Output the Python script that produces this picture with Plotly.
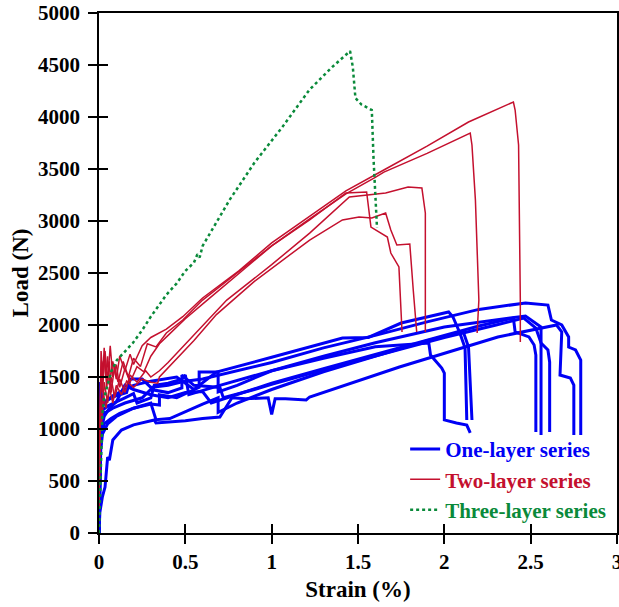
import plotly.graph_objects as go

# ---------------- data ----------------
# One-layer series (8 specimens)
b1_x = [0, 0.003, 0.008, 0.015, 0.03, 0.06, 0.1, 0.15, 0.2, 0.22, 0.3, 0.32, 0.4, 0.48, 0.5, 0.52, 0.7, 1.0, 1.3, 1.6, 1.91, 1.92, 1.985, 2.0, 2.0, 2.07, 2.13, 2.15]
b1_y = [0, 400, 800, 1000, 1120, 1200, 1260, 1300, 1340, 1250, 1300, 1420, 1440, 1480, 1520, 1330, 1420, 1560, 1680, 1790, 1827, 1711, 1586, 1538, 1087, 1058, 1038, 962]

b2_x = [0, 0.002, 0.004, 0.006, 0.01, 0.015, 0.03, 0.08, 0.15, 0.2, 0.3, 0.45, 0.55, 0.68, 1.0, 1.41, 1.56, 1.75, 2.025, 2.05, 2.09, 2.12, 2.13]
b2_y = [0, 600, 1000, 1450, 1300, 1200, 1250, 1320, 1380, 1420, 1460, 1500, 1380, 1548, 1690, 1875, 1880, 2019, 2125, 2077, 1923, 1779, 1087]

b3_x = [0, 0.005, 0.01, 0.02, 0.05, 0.1, 0.2, 0.3, 0.33, 0.41, 0.5, 0.6, 0.69, 0.69, 0.8, 1.0, 1.3, 1.6, 1.9, 2.11, 2.14, 2.16]
b3_y = [0, 500, 800, 950, 1050, 1120, 1200, 1250, 1090, 1100, 1170, 1240, 1300, 1160, 1250, 1380, 1550, 1700, 1850, 1933, 1788, 1087]

b4_x = [0, 0.003, 0.01, 0.02, 0.05, 0.1, 0.15, 0.2, 0.3, 0.4, 0.5, 0.6, 0.65, 0.8, 1.0, 1.3, 1.6, 2.0, 2.2, 2.4, 2.41, 2.49, 2.52, 2.53, 2.53]
b4_y = [0, 700, 1100, 1180, 1220, 1260, 1420, 1380, 1330, 1300, 1350, 1360, 1250, 1330, 1440, 1580, 1720, 1900, 1990, 2067, 1933, 1885, 1808, 1711, 971]

b5_x = [0, 0.004, 0.01, 0.03, 0.07, 0.12, 0.2, 0.3, 0.35, 0.35, 0.45, 0.58, 0.58, 0.69, 0.69, 0.8, 1.0, 1.3, 1.6, 2.0, 2.3, 2.47, 2.56, 2.56]
b5_y = [0, 500, 900, 1050, 1100, 1150, 1200, 1240, 1230, 1330, 1300, 1400, 1548, 1548, 1356, 1420, 1560, 1700, 1830, 1980, 2050, 2087, 1980, 942]

b6_x = [0, 0.003, 0.008, 0.01, 0.012, 0.03, 0.08, 0.15, 0.25, 0.3, 0.4, 0.48, 0.48, 0.55, 0.7, 0.72, 0.9, 1.0, 1.3, 1.6, 2.0, 2.3, 2.46, 2.53, 2.56, 2.6, 2.61, 2.61]
b6_y = [0, 600, 1000, 1400, 1200, 1150, 1200, 1250, 1300, 1380, 1350, 1394, 1519, 1420, 1400, 1300, 1380, 1430, 1570, 1700, 1880, 2000, 2067, 1971, 1827, 1760, 1644, 971]

b7_x = [0, 0.005, 0.02, 0.035, 0.05, 0.06, 0.08, 0.13, 0.2, 0.32, 0.33, 0.41, 0.5, 0.6, 0.7, 0.77, 0.85, 0.98, 1.0, 1.02, 1.08, 1.2, 1.22, 1.74, 2.31, 2.65, 2.68, 2.67, 2.73, 2.75, 2.75]
b7_y = [0, 200, 350, 442, 730, 700, 894, 990, 1040, 1087, 1058, 1067, 1080, 1100, 1115, 1300, 1290, 1300, 1140, 1290, 1290, 1280, 1308, 1596, 1885, 2000, 1933, 1519, 1490, 1423, 942]

b8_x = [0, 0.003, 0.006, 0.008, 0.012, 0.02, 0.05, 0.1, 0.16, 0.18, 0.25, 0.3, 0.4, 0.5, 0.6, 0.8, 1.0, 1.3, 1.6, 1.9, 2.2, 2.47, 2.6, 2.62, 2.68, 2.72, 2.72, 2.76, 2.79, 2.79]
b8_y = [0, 800, 1200, 1450, 1350, 1250, 1280, 1320, 1350, 1480, 1480, 1400, 1420, 1460, 1480, 1560, 1640, 1780, 1900, 2030, 2150, 2212, 2192, 2048, 2000, 1885, 1788, 1760, 1663, 942]

# Two-layer series (5 specimens)
r1_x = [0, 0.003, 0.006, 0.01, 0.015, 0.02, 0.03, 0.04, 0.05, 0.06, 0.08, 0.1, 0.12, 0.15, 0.18, 0.2, 0.25, 0.3, 0.39, 0.485, 0.6, 0.81, 1.0, 1.22, 1.43, 1.66, 1.9, 2.14, 2.4, 2.41, 2.43, 2.44, 2.44]
r1_y = [250, 700, 1100, 1500, 1650, 1450, 1780, 1500, 1700, 1420, 1650, 1480, 1700, 1560, 1720, 1620, 1800, 1880, 1960, 2080, 2260, 2520, 2790, 3050, 3290, 3500, 3720, 3952, 4144, 4067, 3731, 2240, 1836]

r2_x = [0, 0.004, 0.008, 0.012, 0.02, 0.03, 0.045, 0.06, 0.07, 0.09, 0.11, 0.14, 0.17, 0.2, 0.24, 0.28, 0.33, 0.39, 0.485, 0.6, 0.8, 1.0, 1.22, 1.43, 1.6, 1.65, 1.9, 2.15, 2.16, 2.18, 2.2, 2.19]
r2_y = [300, 800, 1200, 1750, 1550, 1700, 1400, 1650, 1350, 1600, 1450, 1650, 1500, 1680, 1600, 1820, 1790, 1923, 2048, 2240, 2500, 2760, 3020, 3260, 3420, 3470, 3650, 3846, 3731, 3202, 2240, 1923]

r3_x = [0, 0.004, 0.01, 0.02, 0.03, 0.05, 0.07, 0.09, 0.12, 0.15, 0.18, 0.22, 0.27, 0.3, 0.35, 0.4, 0.485, 0.6, 0.74, 1.0, 1.22, 1.45, 1.66, 1.79, 1.87, 1.89, 1.89]
r3_y = [300, 900, 1300, 1150, 1450, 1250, 1500, 1300, 1480, 1350, 1520, 1450, 1560, 1500, 1560, 1640, 1790, 1990, 2240, 2580, 2884, 3231, 3269, 3327, 3317, 3077, 1933]

r4_x = [0, 0.003, 0.008, 0.015, 0.025, 0.04, 0.06, 0.08, 0.1, 0.13, 0.16, 0.2, 0.25, 0.3, 0.34, 0.35, 0.45, 0.55, 0.68, 0.9, 1.22, 1.41, 1.506, 1.58, 1.66, 1.69, 1.725, 1.8, 1.82, 1.84]
r4_y = [260, 800, 1200, 1050, 1350, 1200, 1400, 1250, 1420, 1330, 1460, 1400, 1480, 1450, 1440, 1500, 1680, 1850, 2100, 2420, 2817, 3010, 3038, 3029, 3077, 2913, 2769, 2779, 2336, 1933]

r5_x = [0, 0.003, 0.008, 0.015, 0.02, 0.035, 0.05, 0.065, 0.08, 0.1, 0.12, 0.15, 0.18, 0.22, 0.26, 0.3, 0.35, 0.4, 0.5, 0.62, 0.8, 1.0, 1.22, 1.43, 1.55, 1.575, 1.67, 1.69, 1.737, 1.755]
r5_y = [280, 900, 1300, 1600, 1350, 1750, 1450, 1800, 1500, 1620, 1400, 1580, 1450, 1600, 1550, 1700, 1820, 1900, 2060, 2230, 2480, 2760, 3010, 3269, 3279, 2942, 2846, 2692, 2558, 1933]

# Three-layer series (1 specimen)
g_x = [0, 0.005, 0.01, 0.015, 0.02, 0.03, 0.046, 0.07, 0.104, 0.15, 0.196, 0.25, 0.3, 0.39, 0.45, 0.5, 0.55, 0.57, 0.583, 0.6, 0.756, 0.9, 1.062, 1.218, 1.35, 1.454, 1.47, 1.485, 1.52, 1.58, 1.59, 1.61]
g_y = [0, 300, 600, 900, 1150, 1300, 1404, 1550, 1663, 1750, 1827, 1950, 2080, 2290, 2400, 2520, 2600, 2680, 2650, 2760, 3202, 3560, 3904, 4260, 4480, 4634, 4480, 4183, 4120, 4067, 3600, 2933]

one_layer = [(b1_x, b1_y), (b2_x, b2_y), (b3_x, b3_y), (b4_x, b4_y),
             (b5_x, b5_y), (b6_x, b6_y), (b7_x, b7_y), (b8_x, b8_y)]
two_layer = [(r1_x, r1_y), (r2_x, r2_y), (r3_x, r3_y), (r4_x, r4_y), (r5_x, r5_y)]
three_layer = [(g_x, g_y)]

series_names = ["One-layer series", "Two-layer series", "Three-layer series"]
x_ticks = [0, 0.5, 1, 1.5, 2, 2.5, 3]
x_tick_text = ["0", "0.5", "1", "1.5", "2", "2.5", "3"]
y_ticks = [0, 500, 1000, 1500, 2000, 2500, 3000, 3500, 4000, 4500, 5000]

# ---------------- styling ----------------
BLUE = "#0000F5"
RED = "#C4102E"
GREEN = "#0A8A3A"
FONT = "Liberation Serif"

fig = go.Figure()

groups = [
    (one_layer, series_names[0], BLUE, dict(color=BLUE, width=3)),
    (two_layer, series_names[1], RED, dict(color=RED, width=1.5)),
    (three_layer, series_names[2], GREEN, dict(color=GREEN, width=2.5, dash="dot")),
]
for curves, name, col, line in groups:
    for i, (xs, ys) in enumerate(curves):
        fig.add_trace(go.Scatter(
            x=xs, y=ys, mode="lines", line=line,
            name=f'<span style="color:{col}">{name}</span>',
            legendgroup=name, showlegend=(i == 0), hoverinfo="skip"))

tickfont = dict(family=FONT, size=21, color="black", weight="bold")
axis_common = dict(showgrid=False, zeroline=False, showline=True,
                   linecolor="black", linewidth=1.5, mirror=True,
                   ticks="outside", ticklen=9, tickwidth=1.5, tickcolor="black",
                   tickfont=tickfont, ticklabeloverflow="allow", automargin=False)

fig.update_layout(
    width=619, height=607,
    margin=dict(l=99, r=2, t=13, b=74),
    paper_bgcolor="white", plot_bgcolor="white",
    showlegend=True,
    legend=dict(x=0.591, y=0.006, xanchor="left", yanchor="bottom",
                bgcolor="rgba(0,0,0,0)", borderwidth=0,
                font=dict(family=FONT, size=21, weight="bold"),
                tracegroupgap=0, itemwidth=30),
    xaxis=dict(range=[0, 3], tickvals=x_ticks, ticktext=x_tick_text,
               title=dict(text="Strain (%)", font=dict(family=FONT, size=23, color="black", weight="bold"), standoff=8),
               **axis_common),
    yaxis=dict(range=[0, 5000], tickvals=y_ticks,
               title=dict(text="Load (N)", font=dict(family=FONT, size=23, color="black", weight="bold"), standoff=3),
               ticklabelstandoff=4,
               **axis_common),
    xaxis2=dict(range=[0, 3], tickvals=x_ticks, overlaying="x", side="bottom",
                showticklabels=False, showgrid=False, zeroline=False, showline=False,
                ticks="inside", ticklen=9, tickwidth=1.5, tickcolor="black", automargin=False),
    yaxis2=dict(range=[0, 5000], tickvals=y_ticks, overlaying="y", side="left",
                showticklabels=False, showgrid=False, zeroline=False, showline=False,
                ticks="inside", ticklen=9, tickwidth=1.5, tickcolor="black", automargin=False),
)

# invisible helper trace so the overlay axes (inside half of the crossing ticks) are drawn
fig.add_trace(go.Scatter(x=[0], y=[0], xaxis="x2", yaxis="y2", mode="markers",
                         marker=dict(opacity=0), showlegend=False, hoverinfo="skip"))

fig.write_html("out.html")
